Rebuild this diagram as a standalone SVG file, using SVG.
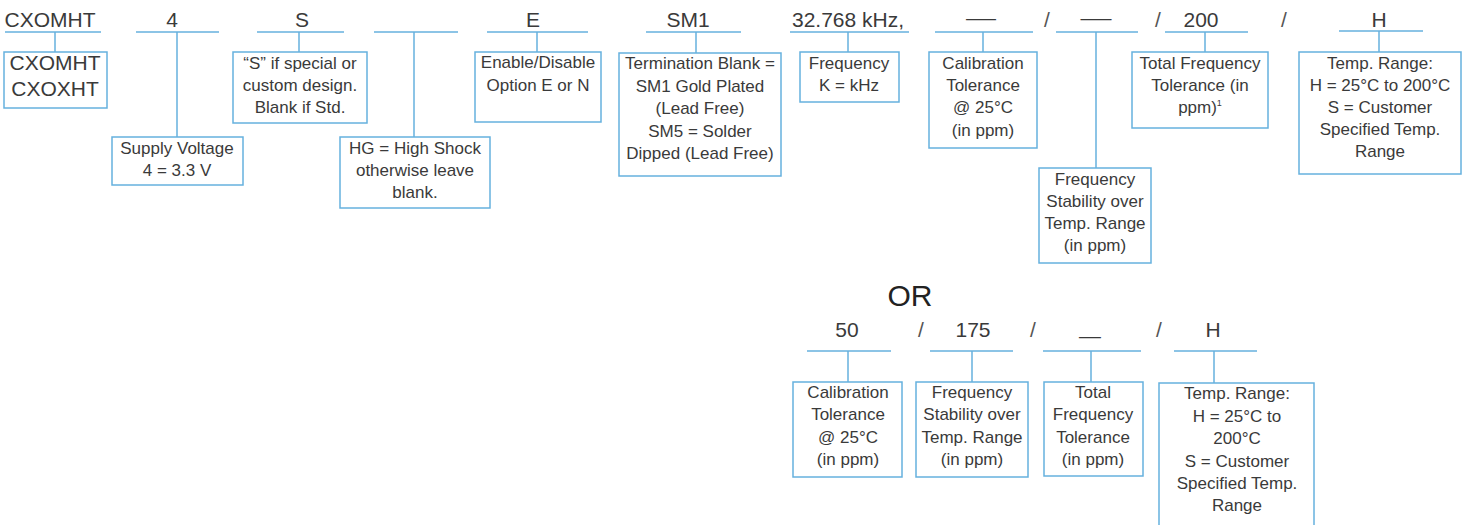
<svg xmlns="http://www.w3.org/2000/svg" width="1471" height="525" viewBox="0 0 1471 525">
<style>
text{font-family:"Liberation Sans",Arial,sans-serif;fill:#3a3a3a}
.lbl{font-size:21px;text-anchor:middle}
.sl{font-size:21px;text-anchor:middle;fill:#555}
.big{font-size:21px;text-anchor:middle}
.t{font-size:17px;text-anchor:middle}
.or{font-size:30px;text-anchor:middle;fill:#222}
.ul,.cn{stroke:#66b1de;stroke-width:1.5;fill:none}
.box{stroke:#66b1de;stroke-width:1.5;fill:#fff}
.sup{font-size:9px}
</style>
<rect width="1471" height="525" fill="#fff"/>

<g id="connectors">
<line class="cn" x1="55" y1="32" x2="55" y2="52"/>
<line class="cn" x1="177" y1="32" x2="177" y2="137"/>
<line class="cn" x1="299" y1="32" x2="299" y2="52"/>
<line class="cn" x1="414" y1="32" x2="414" y2="137"/>
<line class="cn" x1="537" y1="32" x2="537" y2="52"/>
<line class="cn" x1="696" y1="32" x2="696" y2="53"/>
<line class="cn" x1="848" y1="32" x2="848" y2="52"/>
<line class="cn" x1="983" y1="32" x2="983" y2="52"/>
<line class="cn" x1="1096" y1="32" x2="1096" y2="168"/>
<line class="cn" x1="1205" y1="32" x2="1205" y2="52"/>
<line class="cn" x1="1379" y1="31" x2="1379" y2="52"/>
<line class="cn" x1="848" y1="351" x2="848" y2="382"/>
<line class="cn" x1="972" y1="351" x2="972" y2="382"/>
<line class="cn" x1="1091" y1="351" x2="1091" y2="382"/>
<line class="cn" x1="1214" y1="351" x2="1214" y2="383"/>
</g>

<g id="seps">
<text class="sl" x="1047" y="27">/</text>
<text class="sl" x="1158" y="27">/</text>
<text class="sl" x="1284" y="27">/</text>
<text class="or" x="910" y="306">OR</text>
<text class="sl" x="921" y="337">/</text>
<text class="sl" x="1033" y="337">/</text>
<text class="sl" x="1159" y="337">/</text>
</g>

<g id="model">
<text class="lbl" x="50" y="27">CXOMHT</text>
<line class="ul" x1="5" y1="32" x2="101" y2="32"/>
<rect class="box" x="4" y="52" width="103" height="56"/>
<text class="big" x="55" y="70">CXOMHT</text>
<text class="big" x="55" y="96">CXOXHT</text>
</g>

<g id="voltage">
<text class="lbl" x="172" y="27">4</text>
<line class="ul" x1="136" y1="32" x2="219" y2="32"/>
<rect class="box" x="112" y="137" width="131" height="48"/>
<text class="t" x="177" y="154">Supply Voltage</text>
<text class="t" x="177" y="176">4 = 3.3 V</text>
</g>

<g id="special">
<text class="lbl" x="302" y="27">S</text>
<line class="ul" x1="257" y1="32" x2="344" y2="32"/>
<rect class="box" x="233" y="52" width="134" height="71"/>
<text class="t" x="300" y="69">“S” if special or</text>
<text class="t" x="300" y="91">custom design.</text>
<text class="t" x="300" y="113">Blank if Std.</text>
</g>

<g id="shock">
<line class="ul" x1="374" y1="32" x2="458" y2="32"/>
<rect class="box" x="340" y="137" width="150" height="71"/>
<text class="t" x="415" y="154">HG = High Shock</text>
<text class="t" x="415" y="176">otherwise leave</text>
<text class="t" x="415" y="198">blank.</text>
</g>

<g id="enable">
<text class="lbl" x="533" y="27">E</text>
<line class="ul" x1="487" y1="32" x2="588" y2="32"/>
<rect class="box" x="475" y="52" width="126" height="70"/>
<text class="t" x="538" y="68">Enable/Disable</text>
<text class="t" x="538" y="91">Option E or N</text>
</g>

<g id="termination">
<text class="lbl" x="688" y="27">SM1</text>
<line class="ul" x1="646" y1="32" x2="741" y2="32"/>
<rect class="box" x="619" y="53" width="162" height="123"/>
<text class="t" x="700" y="69">Termination Blank =</text>
<text class="t" x="700" y="92">SM1 Gold Plated</text>
<text class="t" x="700" y="114">(Lead Free)</text>
<text class="t" x="700" y="137">SM5 = Solder</text>
<text class="t" x="700" y="159">Dipped (Lead Free)</text>
</g>

<g id="frequency">
<text class="lbl" x="848" y="27">32.768 kHz,</text>
<line class="ul" x1="790" y1="32" x2="909" y2="32"/>
<rect class="box" x="800" y="52" width="99" height="50"/>
<text class="t" x="849" y="69">Frequency</text>
<text class="t" x="849" y="91">K = kHz</text>
</g>

<g id="calibration">
<text class="lbl" x="981" y="25" textLength="30" lengthAdjust="spacingAndGlyphs">—</text>
<line class="ul" x1="935" y1="32" x2="1033" y2="32"/>
<rect class="box" x="929" y="52" width="108" height="96"/>
<text class="t" x="983" y="69">Calibration</text>
<text class="t" x="983" y="91">Tolerance</text>
<text class="t" x="983" y="113">@ 25°C</text>
<text class="t" x="983" y="136">(in ppm)</text>
</g>

<g id="stability">
<text class="lbl" x="1096" y="25" textLength="31" lengthAdjust="spacingAndGlyphs">—</text>
<line class="ul" x1="1056" y1="32" x2="1138" y2="32"/>
<rect class="box" x="1039" y="168" width="112" height="95"/>
<text class="t" x="1095" y="185">Frequency</text>
<text class="t" x="1095" y="207">Stability over</text>
<text class="t" x="1095" y="229">Temp. Range</text>
<text class="t" x="1095" y="251">(in ppm)</text>
</g>

<g id="total">
<text class="lbl" x="1201" y="27">200</text>
<line class="ul" x1="1165" y1="32" x2="1248" y2="32"/>
<rect class="box" x="1132" y="52" width="136" height="76"/>
<text class="t" x="1200" y="69">Total Frequency</text>
<text class="t" x="1200" y="91">Tolerance (in</text>
<text class="t" x="1200" y="113">ppm)<tspan class="sup" dy="-7">1</tspan></text>
</g>

<g id="temprange">
<text class="lbl" x="1379" y="27">H</text>
<line class="ul" x1="1339" y1="31" x2="1423" y2="31"/>
<rect class="box" x="1299" y="52" width="162" height="122"/>
<text class="t" x="1380" y="69">Temp. Range:</text>
<text class="t" x="1380" y="91">H = 25°C to 200°C</text>
<text class="t" x="1380" y="113">S = Customer</text>
<text class="t" x="1380" y="135">Specified Temp.</text>
<text class="t" x="1380" y="157">Range</text>
</g>

<g id="calibration2">
<text class="lbl" x="847" y="337">50</text>
<line class="ul" x1="807" y1="351" x2="891" y2="351"/>
<rect class="box" x="793" y="382" width="109" height="95"/>
<text class="t" x="848" y="398">Calibration</text>
<text class="t" x="848" y="420">Tolerance</text>
<text class="t" x="848" y="443">@ 25°C</text>
<text class="t" x="848" y="465">(in ppm)</text>
</g>

<g id="stability2">
<text class="lbl" x="973" y="337">175</text>
<line class="ul" x1="930" y1="351" x2="1013" y2="351"/>
<rect class="box" x="916" y="382" width="112" height="95"/>
<text class="t" x="972" y="398">Frequency</text>
<text class="t" x="972" y="420">Stability over</text>
<text class="t" x="972" y="443">Temp. Range</text>
<text class="t" x="972" y="465">(in ppm)</text>
</g>

<g id="total2">
<text class="lbl" x="1090" y="334" textLength="21" lengthAdjust="spacingAndGlyphs">_</text>
<line class="ul" x1="1043" y1="351" x2="1141" y2="351"/>
<rect class="box" x="1044" y="382" width="99" height="94"/>
<text class="t" x="1093" y="398">Total</text>
<text class="t" x="1093" y="420">Frequency</text>
<text class="t" x="1093" y="443">Tolerance</text>
<text class="t" x="1093" y="465">(in ppm)</text>
</g>

<g id="temprange2">
<text class="lbl" x="1213" y="337">H</text>
<line class="ul" x1="1174" y1="351" x2="1257" y2="351"/>
<rect class="box" x="1159" y="383" width="155" height="150"/>
<text class="t" x="1237" y="399">Temp. Range:</text>
<text class="t" x="1237" y="422">H = 25°C to</text>
<text class="t" x="1237" y="444">200°C</text>
<text class="t" x="1237" y="467">S = Customer</text>
<text class="t" x="1237" y="489">Specified Temp.</text>
<text class="t" x="1237" y="511">Range</text>
</g>
</svg>
